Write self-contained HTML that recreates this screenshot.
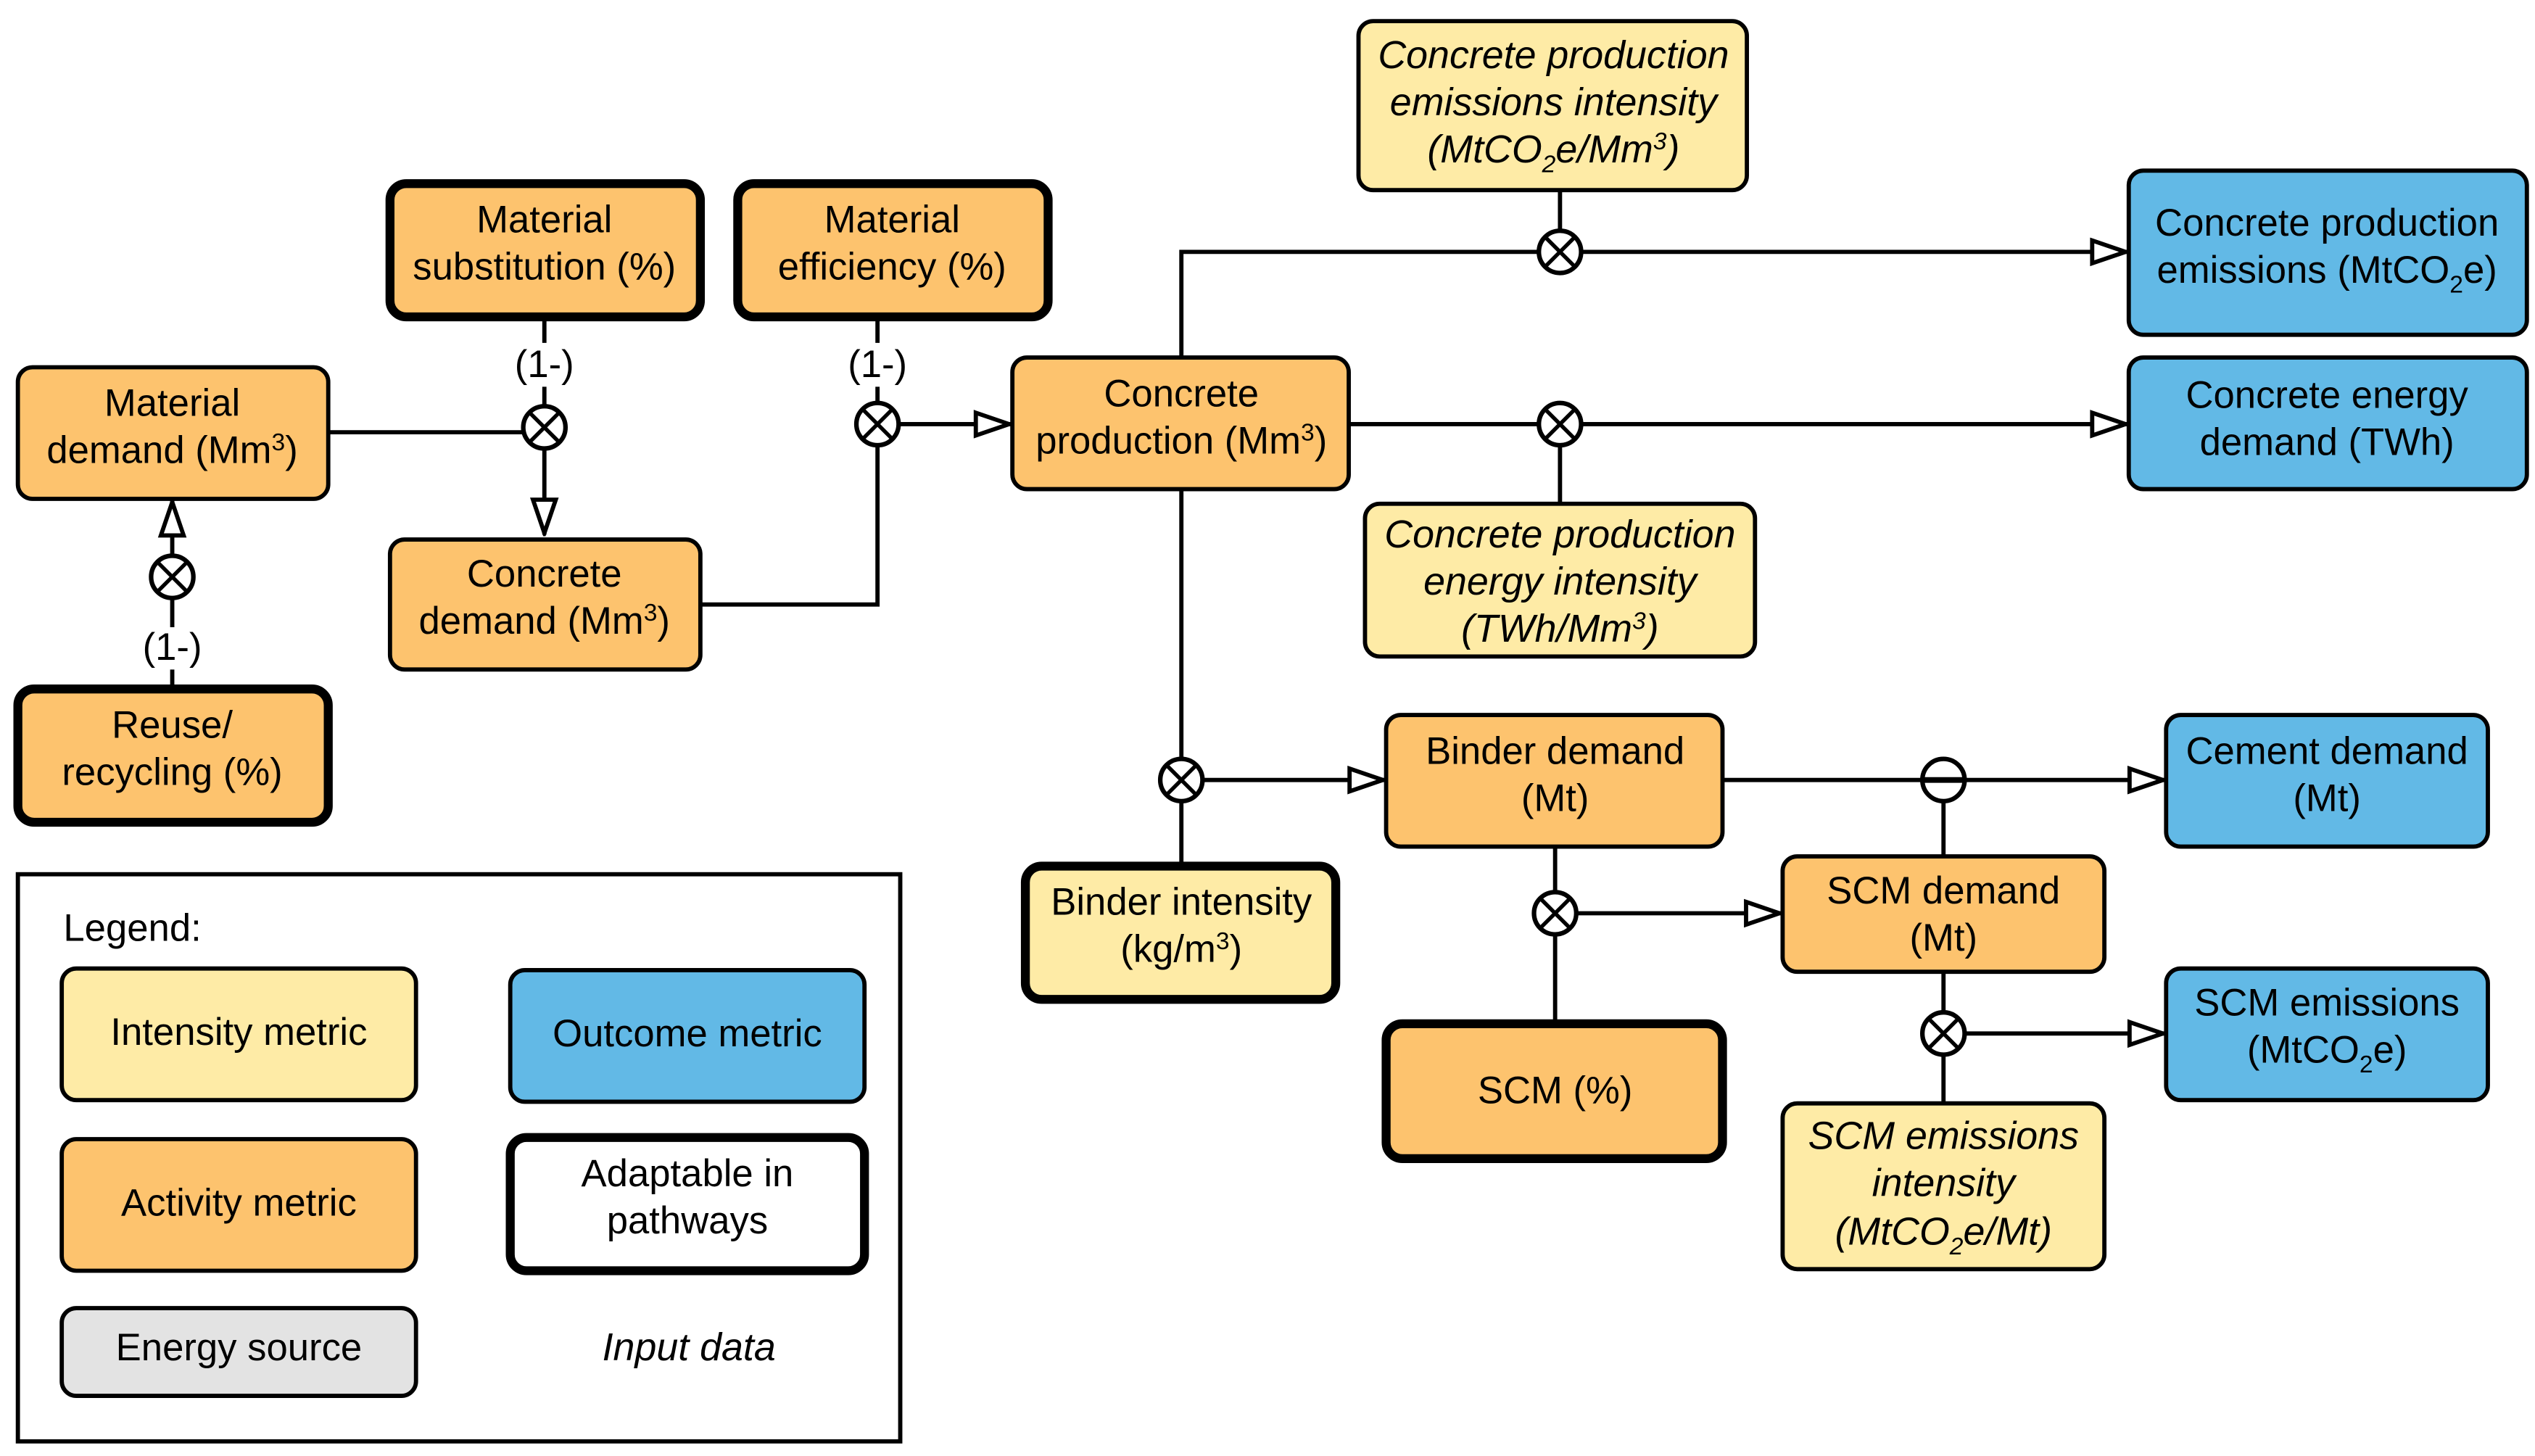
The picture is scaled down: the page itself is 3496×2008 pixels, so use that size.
<!DOCTYPE html>
<html><head><meta charset="utf-8"><style>
html,body{margin:0;padding:0;background:#fff}
svg{display:block}
text{font-family:"Liberation Sans",sans-serif;font-size:23.5px;fill:#000;text-anchor:middle}
.i{font-style:italic;font-size:24px}
</style></head><body>
<svg width="3496" height="2008" viewBox="0 0 1560 896" preserveAspectRatio="none" xmlns="http://www.w3.org/2000/svg">
<defs>
<marker id="a" viewBox="0 0 24 18" refX="23" refY="9" markerWidth="24" markerHeight="18" markerUnits="userSpaceOnUse" orient="auto">
<path d="M1.5,2 L22,9 L1.5,16 Z" fill="#fff" stroke="#000" stroke-width="2.6"/>
</marker>
<g id="x"><circle r="13" fill="#fff" stroke="#000" stroke-width="2.8"/><path d="M-9,-9 L9,9 M9,-9 L-9,9" stroke="#000" stroke-width="2.4"/></g>
</defs>
<g stroke="#000" stroke-width="2.6" fill="none">
<path d="M202,266 H322"/>
<path d="M335,195 V211 M335,238 V250"/>
<path d="M335,276 V329" marker-end="url(#a)"/>
<path d="M540,195 V211 M540,238 V248"/>
<path d="M431,372 H540 V274"/>
<path d="M553,261 H622" marker-end="url(#a)"/>
<path d="M106,424 V412 M106,386 V368"/>
<path d="M106,342 V308" marker-end="url(#a)"/>
<path d="M727,220 V155 H947"/>
<path d="M973,155 H1309" marker-end="url(#a)"/>
<path d="M960,117 V142"/>
<path d="M830,261 H947"/>
<path d="M973,261 H1309" marker-end="url(#a)"/>
<path d="M960,310 V274"/>
<path d="M727,301 V467 M727,493 V533"/>
<path d="M740,480 H852" marker-end="url(#a)"/>
<path d="M1060,480 H1332" marker-end="url(#a)"/>
<path d="M1196,527 V493"/>
<path d="M957,521 V549 M957,575 V630"/>
<path d="M970,562 H1096" marker-end="url(#a)"/>
<path d="M1196,598 V623 M1196,649 V679"/>
<path d="M1209,636 H1332" marker-end="url(#a)"/>
</g>
<g stroke="#000">
<rect x="11" y="226" width="191" height="81" rx="9" fill="#FDC36E" stroke-width="2.6"/>
<rect x="240" y="113" width="191" height="82" rx="10" fill="#FDC36E" stroke-width="5.5"/>
<rect x="454" y="113" width="191" height="82" rx="10" fill="#FDC36E" stroke-width="5.5"/>
<rect x="240" y="332" width="191" height="80" rx="9" fill="#FDC36E" stroke-width="2.6"/>
<rect x="11" y="424" width="191" height="82" rx="10" fill="#FDC36E" stroke-width="5.5"/>
<rect x="623" y="220" width="207" height="81" rx="9" fill="#FDC36E" stroke-width="2.6"/>
<rect x="836" y="13" width="239" height="104" rx="9" fill="#FEEBA6" stroke-width="2.6"/>
<rect x="1310" y="105" width="245" height="101" rx="9" fill="#62B9E6" stroke-width="2.6"/>
<rect x="1310" y="220" width="245" height="81" rx="9" fill="#62B9E6" stroke-width="2.6"/>
<rect x="840" y="310" width="240" height="94" rx="9" fill="#FEEBA6" stroke-width="2.6"/>
<rect x="853" y="440" width="207" height="81" rx="9" fill="#FDC36E" stroke-width="2.6"/>
<rect x="1333" y="440" width="198" height="81" rx="9" fill="#62B9E6" stroke-width="2.6"/>
<rect x="631" y="533" width="191" height="82" rx="10" fill="#FEEBA6" stroke-width="5.5"/>
<rect x="1097" y="527" width="198" height="71" rx="9" fill="#FDC36E" stroke-width="2.6"/>
<rect x="853" y="630" width="207" height="83" rx="10" fill="#FDC36E" stroke-width="5.5"/>
<rect x="1333" y="596" width="198" height="81" rx="9" fill="#62B9E6" stroke-width="2.6"/>
<rect x="1097" y="679" width="198" height="102" rx="9" fill="#FEEBA6" stroke-width="2.6"/>
<rect x="11" y="538" width="543" height="349" fill="#fff" stroke-width="2.6"/>
<rect x="38" y="596" width="218" height="81" rx="9" fill="#FEEBA6" stroke-width="2.6"/>
<rect x="314" y="597" width="218" height="81" rx="9" fill="#62B9E6" stroke-width="2.6"/>
<rect x="38" y="701" width="218" height="81" rx="9" fill="#FDC36E" stroke-width="2.6"/>
<rect x="314" y="700" width="218" height="82" rx="10" fill="#fff" stroke-width="5.5"/>
<rect x="38" y="805" width="218" height="54" rx="9" fill="#E3E3E3" stroke-width="2.6"/>
</g>
<use href="#x" x="335" y="263"/>
<use href="#x" x="540" y="261"/>
<use href="#x" x="106" y="355"/>
<use href="#x" x="960" y="155"/>
<use href="#x" x="960" y="261"/>
<use href="#x" x="727" y="480"/>
<use href="#x" x="957" y="562"/>
<use href="#x" x="1196" y="636"/>
<g><circle cx="1196" cy="480" r="13" fill="#fff" stroke="#000" stroke-width="2.8"/><path d="M1183,480 H1209" stroke="#000" stroke-width="3.5"/></g>

<text x="335" y="232">(1-)</text>
<text x="540" y="232">(1-)</text>
<text x="106" y="406">(1-)</text>

<text x="106" y="256">Material</text>
<text x="106" y="285">demand (Mm<tspan dy="-8" font-size="15">3</tspan><tspan dy="8">)</tspan></text>
<text x="335" y="143">Material</text>
<text x="335" y="172">substitution (%)</text>
<text x="549" y="143">Material</text>
<text x="549" y="172">efficiency (%)</text>
<text x="335" y="361">Concrete</text>
<text x="335" y="390">demand (Mm<tspan dy="-8" font-size="15">3</tspan><tspan dy="8">)</tspan></text>
<text x="106" y="454">Reuse/</text>
<text x="106" y="483">recycling (%)</text>
<text x="727" y="250">Concrete</text>
<text x="727" y="279">production (Mm<tspan dy="-8" font-size="15">3</tspan><tspan dy="8">)</tspan></text>
<text class="i" x="956" y="42">Concrete production</text>
<text class="i" x="956" y="71">emissions intensity</text>
<text class="i" x="956" y="100">(MtCO<tspan dy="6" font-size="15">2</tspan><tspan dy="-6">e/Mm</tspan><tspan dy="-8" font-size="15">3</tspan><tspan dy="8">)</tspan></text>
<text x="1432" y="145">Concrete production</text>
<text x="1432" y="174">emissions (MtCO<tspan dy="6" font-size="15">2</tspan><tspan dy="-6">e)</tspan></text>
<text x="1432" y="251">Concrete energy</text>
<text x="1432" y="280">demand (TWh)</text>
<text class="i" x="960" y="337">Concrete production</text>
<text class="i" x="960" y="366">energy intensity</text>
<text class="i" x="960" y="395">(TWh/Mm<tspan dy="-8" font-size="15">3</tspan><tspan dy="8">)</tspan></text>
<text x="957" y="470">Binder demand</text>
<text x="957" y="499">(Mt)</text>
<text x="1432" y="470">Cement demand</text>
<text x="1432" y="499">(Mt)</text>
<text x="727" y="563">Binder intensity</text>
<text x="727" y="592">(kg/m<tspan dy="-8" font-size="15">3</tspan><tspan dy="8">)</tspan></text>
<text x="1196" y="556">SCM demand</text>
<text x="1196" y="585">(Mt)</text>
<text x="957" y="679">SCM (%)</text>
<text x="1432" y="625">SCM emissions</text>
<text x="1432" y="654">(MtCO<tspan dy="6" font-size="15">2</tspan><tspan dy="-6">e)</tspan></text>
<text class="i" x="1196" y="707">SCM emissions</text>
<text class="i" x="1196" y="736">intensity</text>
<text class="i" x="1196" y="766">(MtCO<tspan dy="6" font-size="15">2</tspan><tspan dy="-6">e/Mt)</tspan></text>

<text x="39" y="579" style="text-anchor:start">Legend:</text>
<text x="147" y="643">Intensity metric</text>
<text x="423" y="644">Outcome metric</text>
<text x="147" y="748">Activity metric</text>
<text x="423" y="730">Adaptable in</text>
<text x="423" y="759">pathways</text>
<text x="147" y="837">Energy source</text>
<text class="i" x="424" y="837">Input data</text>
</svg>
</body></html>
